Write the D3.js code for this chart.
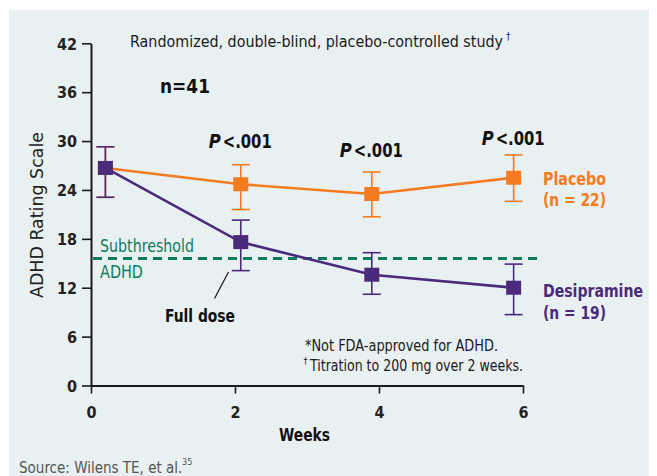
<!DOCTYPE html>
<html>
<head>
<meta charset="utf-8">
<script src="https://cdn.jsdelivr.net/npm/d3@7"></script>
<style>
  html, body { margin: 0; padding: 0; background: #ffffff; }
  svg { display: block; }
  text { font-family: "DejaVu Sans Condensed", "Liberation Sans", sans-serif; }
</style>
</head>
<body>
<svg id="chart" width="657" height="476"></svg>
<script>
// ---- data ----
const weeks = [0.2, 2.08, 3.9, 5.87];
const placeboMean = [26.7, 24.7, 23.5, 25.5];
const placeboUpper = [29.3, 27.1, 26.2, 28.3];
const placeboLower = [23.1, 21.6, 20.7, 22.6];
const desiMean = [26.7, 17.6, 13.6, 12.0];
const desiUpper = [29.3, 20.3, 16.3, 14.9];
const desiLower = [23.1, 14.1, 11.2, 8.7];
const yTicks = [0, 6, 12, 18, 24, 30, 36, 42];
const xTicks = [0, 2, 4, 6];
const threshold = 15.6;
const pLabelWeekIdx = [1, 2, 3];
const pLabelValues = [29.15, 28.05, 29.5];

const svg = d3.select("#chart");
const W = 657, H = 476;

const orange = "#f47b20";
const purple = "#4b2a7b";
const green = "#0e7a5c";
const axisCol = "#1a1a1a";

function fit(sel, len) {
  return sel.attr("textLength", len).attr("lengthAdjust", "spacingAndGlyphs");
}

// panel background
svg.append("rect").attr("x", 9).attr("y", 10).attr("width", 640).attr("height", H - 10).attr("fill", "#e9f0f2");

const x = d3.scaleLinear().domain([0, 6]).range([91, 523]);
const y = d3.scaleLinear().domain([0, 42]).range([385.5, 43.3]);

// axes
const yAxis = d3.axisLeft(y).tickValues(yTicks).tickFormat(d3.format("d")).tickSize(9).tickSizeOuter(0).tickPadding(5);
const gy = svg.append("g").attr("transform", `translate(${x(0)},0)`).call(yAxis);
const xAxis = d3.axisBottom(x).tickValues(xTicks).tickFormat(d3.format("d")).tickSize(8).tickSizeOuter(0).tickPadding(13);
const gx = svg.append("g").attr("transform", `translate(0,${y(0)})`).call(xAxis);
[gx, gy].forEach(g => {
  g.select(".domain").attr("stroke", axisCol).attr("stroke-width", 2);
  g.selectAll(".tick line").attr("stroke", axisCol).attr("stroke-width", 1.6);
  g.selectAll(".tick text").attr("fill", "#222").attr("font-size", 16).attr("font-weight", "bold")
    .style("font-family", '"DejaVu Sans Condensed", sans-serif');
});
gy.selectAll(".tick text").attr("dy", "0.36em");
gx.selectAll(".tick text").attr("dy", "0.71em");

// threshold dashed
svg.append("line")
  .attr("x1", x(0) + 2).attr("x2", 542)
  .attr("y1", y(threshold)).attr("y2", y(threshold))
  .attr("stroke", green).attr("stroke-width", 3).attr("stroke-dasharray", "9,6");

fit(svg.append("text").attr("x", 100).attr("y", 251.5).attr("fill", green).attr("font-size", 18).text("Subthreshold"), 94);
fit(svg.append("text").attr("x", 100).attr("y", 278).attr("fill", green).attr("font-size", 18).text("ADHD"), 43);

function drawSeries(means, uppers, lowers, color) {
  const line = d3.line().x((d, i) => x(weeks[i])).y(d => y(d));
  svg.append("path").datum(means).attr("d", line).attr("fill", "none").attr("stroke", color).attr("stroke-width", 2.6);
  const g = svg.append("g");
  weeks.forEach((w, i) => {
    const cx = x(w);
    g.append("line").attr("x1", cx).attr("x2", cx).attr("y1", y(uppers[i])).attr("y2", y(lowers[i])).attr("stroke", color).attr("stroke-width", 1.6);
    g.append("line").attr("x1", cx - 9).attr("x2", cx + 9).attr("y1", y(uppers[i])).attr("y2", y(uppers[i])).attr("stroke", color).attr("stroke-width", 1.6);
    g.append("line").attr("x1", cx - 9).attr("x2", cx + 9).attr("y1", y(lowers[i])).attr("y2", y(lowers[i])).attr("stroke", color).attr("stroke-width", 1.6);
    g.append("rect").attr("x", cx - 7.5).attr("y", y(means[i]) - 7).attr("width", 15).attr("height", 14).attr("fill", color);
  });
}
drawSeries(placeboMean, placeboUpper, placeboLower, orange);
drawSeries(desiMean, desiUpper, desiLower, purple);

// P labels
pLabelWeekIdx.forEach((wi, i) => {
  const cx = x(weeks[wi]);
  fit(svg.append("text").attr("x", cx - 32).attr("y", y(pLabelValues[i]))
    .attr("font-size", 20).attr("font-style", "italic").attr("font-weight", "bold").attr("fill", "#111").text("P"), 12);
  fit(svg.append("text").attr("x", cx - 18).attr("y", y(pLabelValues[i]))
    .attr("font-size", 20).attr("font-weight", "bold").attr("fill", "#111").text("<.001"), 49);
});

// title
svg.append("text").attr("x", 130).attr("y", 47).attr("font-size", 15.9).attr("fill", "#1a1a1a")
  .text("Randomized, double-blind, placebo-controlled study");
svg.append("text").attr("x", 506).attr("y", 40).attr("font-size", 10).attr("fill", "#1a1a1a").text("†");

fit(svg.append("text").attr("x", 160).attr("y", 93).attr("font-size", 19).attr("font-weight", "bold").attr("fill", "#111").text("n=41"), 50);

// series labels
fit(svg.append("text").attr("x", 543).attr("y", 184.5).attr("font-size", 18).attr("font-weight", "bold").attr("fill", orange).text("Placebo"), 63);
fit(svg.append("text").attr("x", 543).attr("y", 206).attr("font-size", 18).attr("font-weight", "bold").attr("fill", orange).text("(n = 22)"), 63);
fit(svg.append("text").attr("x", 543).attr("y", 297).attr("font-size", 18).attr("font-weight", "bold").attr("fill", purple).text("Desipramine"), 100);
fit(svg.append("text").attr("x", 543).attr("y", 318.5).attr("font-size", 18).attr("font-weight", "bold").attr("fill", purple).text("(n = 19)"), 63);

// full dose
svg.append("line").attr("x1", 228.5).attr("y1", 272).attr("x2", 214.5).attr("y2", 298.5).attr("stroke", "#111").attr("stroke-width", 1.2);
fit(svg.append("text").attr("x", 165).attr("y", 322).attr("font-size", 18).attr("font-weight", "bold").attr("fill", "#111").text("Full dose"), 70);

// footnotes
fit(svg.append("text").attr("x", 305).attr("y", 351).attr("font-size", 15.5).attr("fill", "#1a1a1a").text("*Not FDA-approved for ADHD."), 193);
svg.append("text").attr("x", 303.5).attr("y", 364).attr("font-size", 9).attr("fill", "#1a1a1a").text("†");
fit(svg.append("text").attr("x", 310).attr("y", 371).attr("font-size", 15.5).attr("fill", "#1a1a1a").text("Titration to 200 mg over 2 weeks."), 213);

// axis titles
fit(svg.append("text").attr("x", 279).attr("y", 441).attr("font-size", 18).attr("font-weight", "bold").attr("fill", "#111").text("Weeks"), 51);
fit(svg.append("text").attr("transform", "translate(43,298) rotate(-90)").attr("font-size", 18).attr("fill", "#222").text("ADHD Rating Scale"), 166);

// source
svg.append("text").attr("x", 19).attr("y", 473).attr("font-size", 15).attr("fill", "#555").text("Source: Wilens TE, et al.");
svg.append("text").attr("x", 182).attr("y", 465).attr("font-size", 9).attr("fill", "#555").text("35");
</script>
</body>
</html>
